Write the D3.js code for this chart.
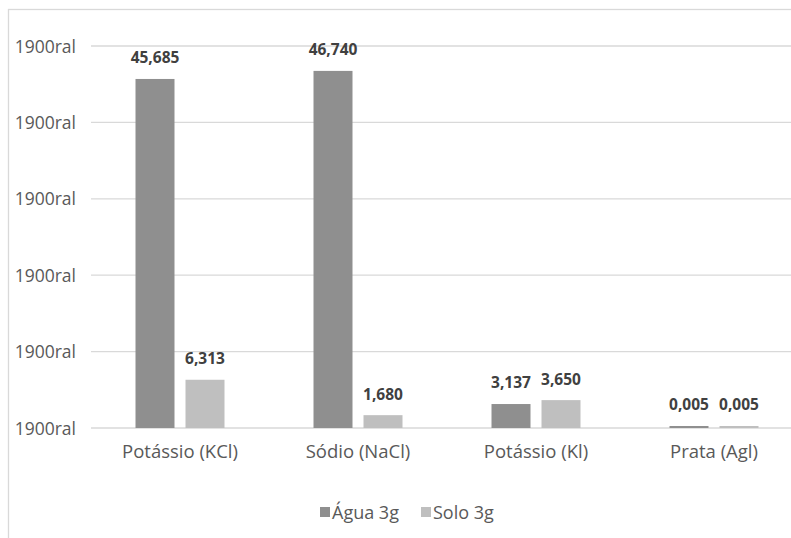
<!DOCTYPE html>
<html><head><meta charset="utf-8">
<script src="https://cdn.jsdelivr.net/npm/d3@7"></script>
<style>body{margin:0;background:#fff;}svg{display:block;}text{font-family:"Open Sans","Noto Sans",sans-serif;}</style>
</head><body><svg id="c" width="791" height="538"></svg>
<script>
const categories = ["Potássio (KCl)", "Sódio (NaCl)", "Potássio (Kl)", "Prata (Agl)"];
const seriesNames = ["Água 3g", "Solo 3g"];
const agua = [45.685, 46.740, 3.137, 0.005];
const solo = [6.313, 1.680, 3.650, 0.005];
const yTicks = [0, 10, 20, 30, 40, 50];
const yTickLabel = "1900ral";
const colors = ["#8f8f8f", "#bfbfbf"];

(function () {
const svg = d3.select("#c");
const pLeft = 91, pRight = 803, pTop = 46, pBottom = 428;
const x0 = d3.scaleBand().domain(categories).range([pLeft, pRight]).padding(0);
const groupW = 89;
const x1 = d3.scaleBand().domain(seriesNames).range([0, groupW]).paddingInner(0.22).paddingOuter(0);
const y = d3.scaleLinear().domain([0, 50]).range([pBottom, pTop]);

// frame
svg.append("rect").attr("x", 8.5).attr("y", 9.5).attr("width", 800).attr("height", 540)
  .attr("fill", "none").attr("stroke", "#d9d9d9").attr("stroke-width", 1.3);

// grid
svg.append("g").selectAll("line").data(yTicks).join("line")
  .attr("x1", pLeft).attr("x2", pRight).attr("y1", d => y(d)).attr("y2", d => y(d))
  .attr("stroke", "#d9d9d9").attr("stroke-width", 1.3);

// y axis
const yAxis = d3.axisLeft(y).tickValues(yTicks).tickFormat(() => yTickLabel).tickSize(0).tickPadding(0);
const ya = svg.append("g").attr("transform", `translate(76,0)`).call(yAxis);
ya.select(".domain").remove();
ya.selectAll("text").attr("fill", "#595959").style("font-size", "17.5px").style("font-family", '"Open Sans",sans-serif').attr("dy", "0.35em");

// x axis
const xAxis = d3.axisBottom(x0).tickSize(0).tickPadding(0);
const xa = svg.append("g").attr("transform", `translate(0,${pBottom})`).call(xAxis);
xa.select(".domain").remove();
xa.selectAll("text").attr("fill", "#595959").style("font-size", "18.5px").style("font-family", '"Open Sans",sans-serif').attr("y", 24).attr("dy", "0.35em");

const data = categories.map((c, i) => ({cat: c, vals: [agua[i], solo[i]]}));
const groups = svg.append("g").selectAll("g").data(data).join("g")
  .attr("transform", d => `translate(${x0(d.cat) + (x0.bandwidth() - groupW) / 2},0)`);
groups.selectAll("rect").data(d => d.vals.map((v, j) => ({s: seriesNames[j], v, j}))).join("rect")
  .attr("x", d => x1(d.s)).attr("width", x1.bandwidth())
  .attr("y", d => Math.min(y(d.v), pBottom - 2)).attr("height", d => Math.max(pBottom - y(d.v), 2))
  .attr("fill", d => colors[d.j]);
groups.selectAll("text").data(d => d.vals.map((v, j) => ({s: seriesNames[j], v, j}))).join("text")
  .attr("x", d => x1(d.s) + x1.bandwidth() / 2).attr("y", d => Math.min(y(d.v), pBottom - 2) - 21)
  .attr("dy", "0.35em")
  .attr("text-anchor", "middle").attr("fill", "#404040").style("font-size", "15.5px").style("font-weight", "bold")
  .text(d => d3.format(",.3f")(d.v).replace(".", ","));

// legend
const leg = svg.append("g").attr("transform", "translate(320,513)");
const items = leg.selectAll("g").data(seriesNames).join("g").attr("transform", (d, i) => `translate(${i * 101},0)`);
items.append("rect").attr("x", 0).attr("y", -6).attr("width", 10).attr("height", 10).attr("fill", (d, i) => colors[i]);
items.append("text").attr("x", 12).attr("y", 0).attr("dy", "0.35em").attr("fill", "#595959").style("font-size", "18px").text(d => d);
})();
</script></body></html>
